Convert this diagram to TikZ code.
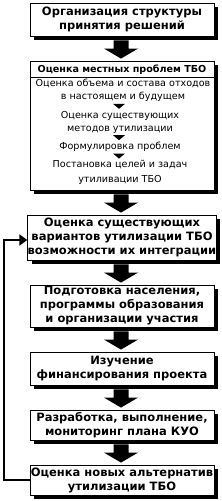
\documentclass[tikz,border=0pt]{standalone}
\usepackage{fontspec}
\setmainfont{DejaVu Sans}
\usetikzlibrary{calc,shadows,arrows.meta}
\newcommand\bigtxt{\fontsize{11.5}{14}\selectfont\bfseries}
\newcommand\hdrtxt{\fontsize{9.6}{11}\selectfont\bfseries}
\newcommand\smalltxt{\fontsize{9.6}{13}\selectfont}
\newcommand\blockarrow[2]{%
  \fill let \p1=(#1.south), \p2=(#2.north) in
    (\x2-8.5pt,\y1-4pt) -- (\x2+6.5pt,\y1-4pt) -- (\x2+6.5pt,\y2+12pt) --
    (\x2+16pt,\y2+12pt) -- (\x2-1pt,\y2+2pt) -- (\x2-18pt,\y2+12pt) --
    (\x2-8.5pt,\y2+12pt) -- cycle;}
\newcommand\smallarrow[2]{%
  \fill let \p1=(#1.south), \p2=(#2.north), \n1={(\y1+\y2)/2} in
    (119pt-6pt,\n1+2.5pt) -- (119pt+6pt,\n1+2.5pt) -- (119pt,\n1-2.5pt) -- cycle;}
\tikzset{
  box/.style={draw=black, line width=0.8pt, fill=white, minimum width=184pt,
    inner sep=0pt, align=center, font=\bigtxt,
    drop shadow={shadow xshift=4pt, shadow yshift=-4pt, fill=black, opacity=1}},
  txt/.style={inner sep=0pt, align=center, font=\smalltxt},
  loopline/.style={line width=2pt, -{Triangle[length=8pt,width=11pt]}}
}
\begin{document}
\begin{tikzpicture}[x=1pt,y=1pt]
\useasboundingbox (0,0) rectangle (222,-501);
\fill[white] (0,0) rectangle (222,-501);
% boxes
\node[box, minimum height=33pt] (b1) at (122,-19.5) {Организация структуры\\принятия решений};
\node[box, minimum height=129pt] (b2) at (122,-125.5) {};
\node[box, minimum height=45pt] (b3) at (122,-237.5) {Оценка существующих\\вариантов утилизации ТБО\\возможности их интеграции};
\node[box, minimum height=42pt] (b4) at (122,-306) {Подготовка населения,\\программы образования\\и организации участия};
\node[box, minimum height=33pt] (b5) at (122,-368.5) {Изучение\\финансирования проекта};
\node[box, minimum height=30pt] (b6) at (122,-425) {Разработка, выполнение,\\мониторинг плана КУО};
\node[box, minimum height=30pt] (b7) at (122,-480) {Оценка новых альтернатив\\утилизации ТБО};
% inside box 2
\node[inner sep=0pt, font=\hdrtxt] (h2) at (122,-69.5) {Оценка местных проблем ТБО};
\draw[line width=0.8pt] (b2.west |- 0,-77) -- (b2.east |- 0,-77);
\node[txt] (t1) at (123,-90.5) {Оценка объема и состава отходов\\в настоящем и будущем};
\node[txt] (t2) at (120,-122) {Оценка существующих\\методов утилизации};
\node[txt] (t3) at (120,-147) {Формулировка проблем};
\node[txt, font=\fontsize{9.6}{15}\selectfont] (t4) at (120,-172.5) {Постановка целей и задач\\утиливации ТБО};
\smallarrow{t1}{t2}
\smallarrow{t2}{t3}
\smallarrow{t3}{t4}
% block arrows
\blockarrow{b1}{b2}
\blockarrow{b2}{b3}
\blockarrow{b3}{b4}
\blockarrow{b4}{b5}
\blockarrow{b5}{b6}
\blockarrow{b6}{b7}
% feedback loop
\coordinate (lb) at (4,-480);
\draw[loopline] (b7.west) -- (lb) |- ($(b3.west)+(0,-2.5)$);
\end{tikzpicture}
\end{document}
